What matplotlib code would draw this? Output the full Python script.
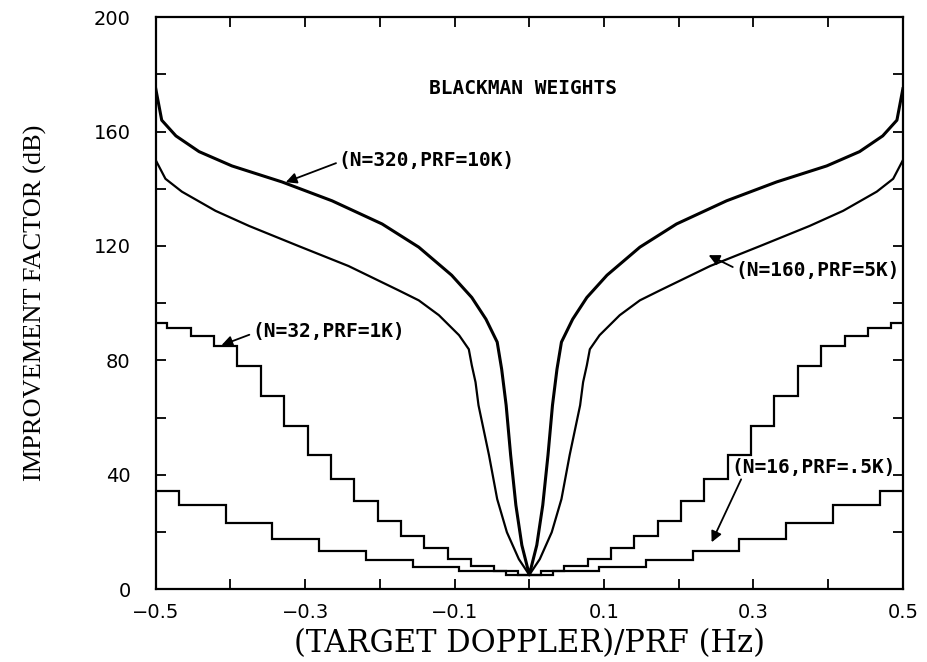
import numpy as np
import matplotlib
matplotlib.use("Agg")
import matplotlib.pyplot as plt

# step levels (dB), from the edge filter (k=N/2) down to the centre filter (k=0)
n16_levels = [34.2, 29.3, 23.0, 17.5, 13.3, 10.1, 7.6, 6.3, 5.0]
n32_levels = [93.0, 91.5, 88.6, 85.0, 78.0, 67.4, 57.0, 46.8, 38.4,
              31.0, 24.0, 18.5, 14.3, 10.5, 8.0, 6.5, 5.0]

# smooth-looking curves, left half (x <= 0)
n320_x = [-0.5, -0.492, -0.473, -0.442, -0.398, -0.331, -0.264, -0.197,
          -0.148, -0.104, -0.077, -0.058, -0.043, -0.037, -0.031, -0.025,
          -0.018, -0.010, 0.0]
n320_y = [175, 164, 158.5, 153, 148, 142.4, 135.8, 127.7,
          119.6, 109.8, 102, 94.4, 86.4, 76.9, 64.3, 46.9,
          29.4, 15.4, 5]

n160_x = [-0.5, -0.487, -0.465, -0.42, -0.375, -0.309, -0.242, -0.175,
          -0.148, -0.121, -0.094, -0.081, -0.077, -0.072, -0.068, -0.054,
          -0.043, -0.030, -0.014, 0.0]
n160_y = [150, 143.5, 139, 132.3, 127, 120, 113, 104.5,
          101, 95.8, 88.8, 83.9, 78.3, 72.4, 64.3, 46.9,
          31.5, 19.9, 10.5, 5]


def mirror_steps(levels, n):
    vals = list(levels) + list(levels[-2::-1])
    edges = np.concatenate(([-0.5], (np.arange(-n // 2, n // 2) + 0.5) / n, [0.5]))
    return np.array(vals), edges


def mirror_curve(x, y):
    x = np.array(x)
    y = np.array(y)
    return np.concatenate((x, -x[-2::-1])), np.concatenate((y, y[-2::-1]))


fig = plt.figure(figsize=(9.27, 6.62), dpi=100)
ax = fig.add_axes([0.168, 0.11, 0.806, 0.864])

v, e = mirror_steps(n16_levels, 16)
ax.stairs(v, e, baseline=None, color="k", lw=1.6)
v, e = mirror_steps(n32_levels, 32)
ax.stairs(v, e, baseline=None, color="k", lw=1.6)

xx, yy = mirror_curve(n160_x, n160_y)
ax.plot(xx, yy, color="k", lw=1.6)
xx, yy = mirror_curve(n320_x, n320_y)
ax.plot(xx, yy, color="k", lw=2.2)

ax.set_xlim(-0.5, 0.5)
ax.set_ylim(0, 200)
ax.set_xticks(np.arange(-0.5, 0.51, 0.2))
ax.set_xticklabels(["\u22120.5", "\u22120.3", "\u22120.1", "0.1", "0.3", "0.5"])
ax.set_xticks(np.arange(-0.4, 0.41, 0.2), minor=True)
ax.set_yticks(np.arange(0, 201, 40))
ax.set_yticks(np.arange(20, 200, 40), minor=True)
ax.tick_params(which="both", direction="in", top=True, right=True,
               length=7, width=1.3, labelsize=14)
ax.tick_params(axis="y", pad=18)
ax.tick_params(axis="x", pad=10)
for s in ax.spines.values():
    s.set_linewidth(1.6)

ax.set_xlabel("(TARGET DOPPLER)/PRF (Hz)", family="DejaVu Serif", fontsize=22, labelpad=4)
ax.set_ylabel("IMPROVEMENT FACTOR (dB)", family="Liberation Serif", fontsize=19, labelpad=34)

mono = dict(family="DejaVu Sans Mono", fontsize=14, fontweight="bold")
ax.text(-0.009, 175, "BLACKMAN WEIGHTS", ha="center", va="center", **mono)

arrow = dict(arrowstyle="-|>", color="k", lw=1.3, mutation_scale=16,
             shrinkA=0, shrinkB=0)
ax.annotate("(N=320,PRF=10K)", xy=(-0.326, 142.3), xytext=(-0.255, 150),
            ha="left", va="center", arrowprops=dict(arrow, relpos=(0, 0.4)), **mono)
ax.annotate("(N=160,PRF=5K)", xy=(0.240, 116.8), xytext=(0.276, 111.5),
            ha="left", va="center", arrowprops=dict(arrow, relpos=(0, 0.6)), **mono)
ax.annotate("(N=32,PRF=1K)", xy=(-0.412, 85.3), xytext=(-0.371, 90),
            ha="left", va="center", arrowprops=dict(arrow, relpos=(0, 0.4)), **mono)
ax.annotate("(N=16,PRF=.5K)", xy=(0.244, 16.4), xytext=(0.271, 42.7),
            ha="left", va="center", arrowprops=dict(arrow, relpos=(0.07, 0.1)), **mono)

fig.savefig("out.png", dpi=100)
